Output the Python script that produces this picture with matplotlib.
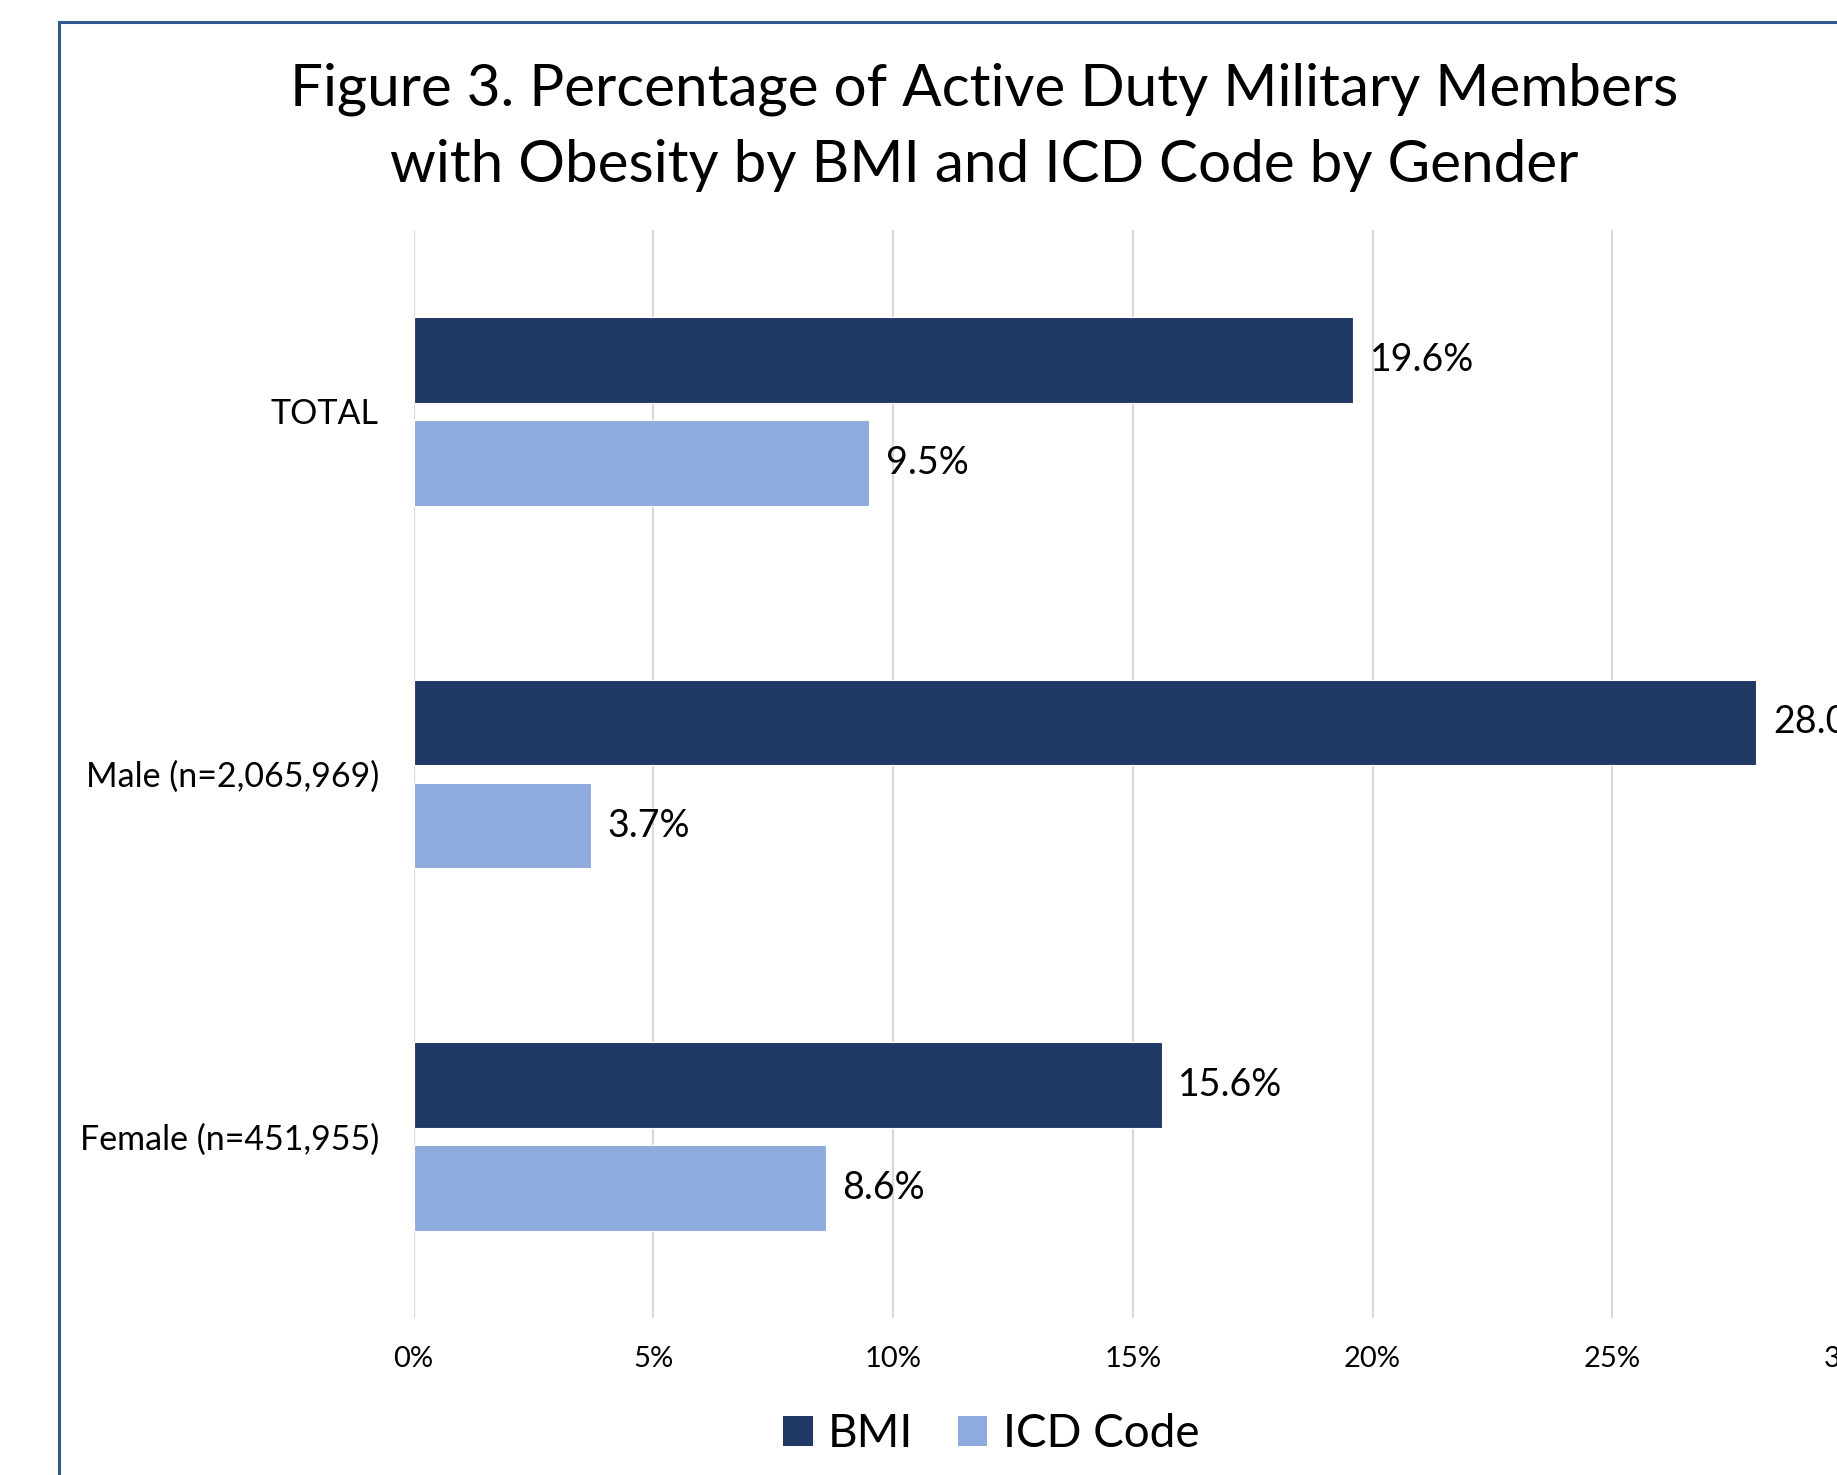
import matplotlib.pyplot as plt
from matplotlib.patches import Rectangle, Patch
import numpy as np

categories = ["TOTAL", "Male (n=2,065,969)", "Female (n=451,955)"]
bmi = [19.6, 28.0, 15.6]
icd = [9.5, 3.7, 8.6]
series_names = ["BMI", "ICD Code"]
xticks = [0, 5, 10, 15, 20, 25, 30]

DARK = "#203864"
LIGHT = "#8FAADC"
FONT = "Lato"

W, H = 1837, 1475
fig = plt.figure(figsize=(W / 100, H / 100), dpi=100)

# chart frame (only left/top visible, rest cropped)
fig.patches.append(Rectangle((59 / W, -0.1), 1.2, 1 - 22 / H + 0.1,
                             transform=fig.transFigure, fill=False,
                             edgecolor="#2E5B8C", linewidth=2.2))

left, right, top, bottom = 413.6, 1852, 230, 1318
ax = fig.add_axes([left / W, 1 - bottom / H, (right - left) / W, (bottom - top) / H])

y = np.arange(len(categories))
h = 0.236
off = (h + 0.0485) / 2
b1 = ax.barh(y - off, bmi, height=h, color=DARK, edgecolor="white", linewidth=0.8,
             label=series_names[0])
b2 = ax.barh(y + off, icd, height=h, color=LIGHT, edgecolor="white", linewidth=0.8,
             label=series_names[1])

for bars, vals in ((b1, bmi), (b2, icd)):
    ax.bar_label(bars, labels=[f"{v:.1f}%" for v in vals], padding=12,
                 fontsize=27, family=FONT, color="black", clip_on=False)

ax.set_xlim(0, 30)
ax.set_ylim(len(categories) - 0.5, -0.5)
ax.set_xticks(xticks)
ax.set_xticklabels([f"{t}%" for t in xticks], fontsize=21, family=FONT)
ax.set_yticks(y)
ax.set_yticklabels(categories, fontsize=24.5, family=FONT)
ax.tick_params(axis="x", length=0, pad=20)
ax.tick_params(axis="y", length=0, pad=25)
ax.grid(axis="x", color="#D9D9D9", linewidth=1.5)
ax.set_axisbelow(True)
for s in ax.spines.values():
    s.set_visible(False)

fig.text(984 / W, 1 - 105 / H, "Figure 3. Percentage of Active Duty Military Members",
         ha="center", va="baseline", fontsize=42, family=FONT)
fig.text(984 / W, 1 - 182 / H, "with Obesity by BMI and ICD Code by Gender",
         ha="center", va="baseline", fontsize=42, family=FONT)

handles = [Patch(facecolor=DARK), Patch(facecolor=LIGHT)]
fig.legend(handles, series_names, loc="center", bbox_to_anchor=(991 / W, 1 - 1434 / H),
           ncol=2, frameon=False, prop={"family": FONT, "size": 33},
           handlelength=0.65, handleheight=0.65, handletextpad=0.33, columnspacing=0.97)

fig.savefig("out.png", dpi=100)
